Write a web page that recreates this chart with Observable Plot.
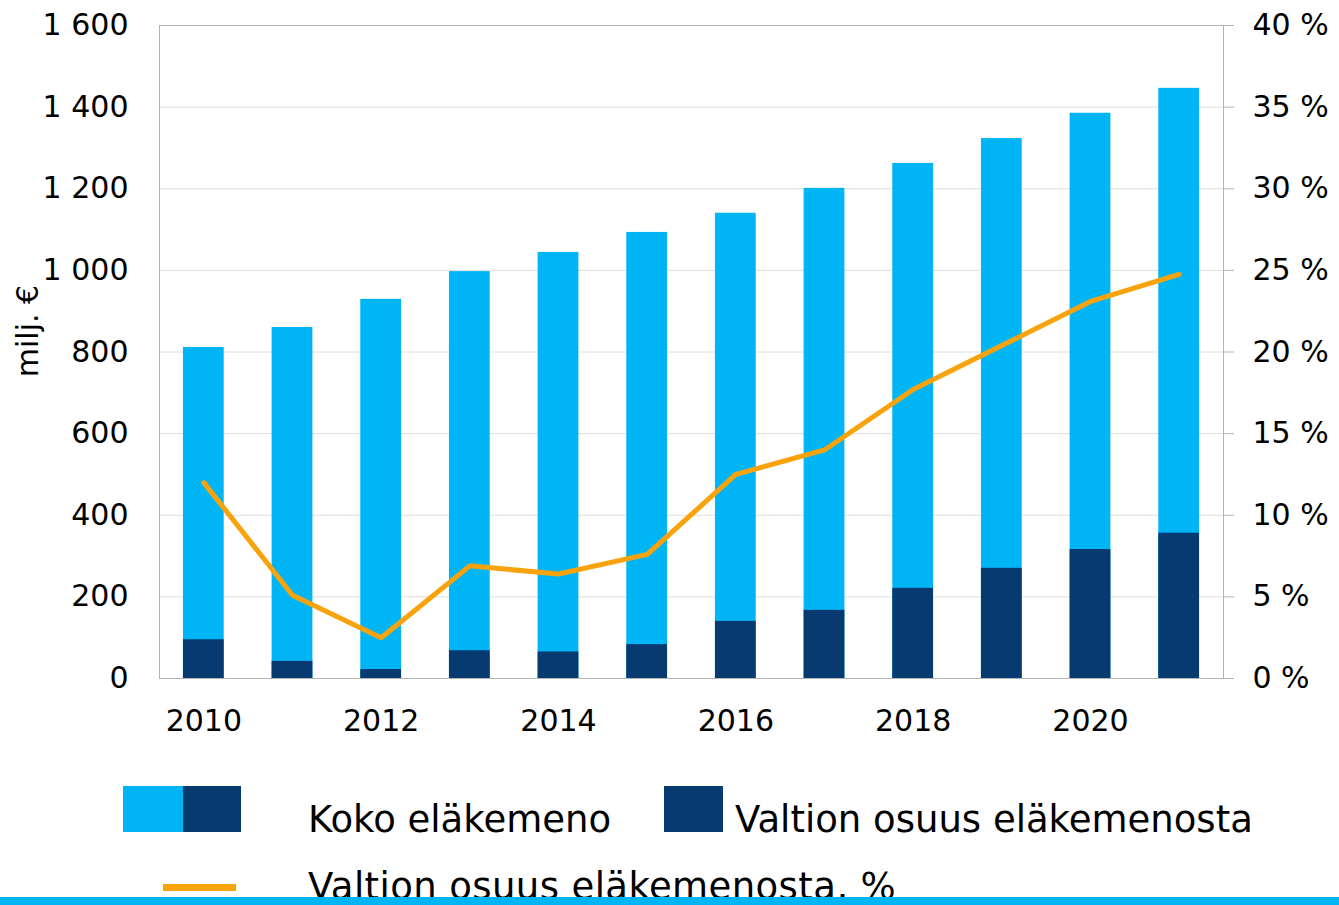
<!DOCTYPE html>
<html><head><meta charset="utf-8">
<script src="https://cdn.jsdelivr.net/npm/d3@7"></script>
<script src="https://cdn.jsdelivr.net/npm/@observablehq/plot@0.6"></script>
<style>
body{margin:0;background:#fff;font-family:"DejaVu Sans",Verdana,sans-serif}
#wrap{width:1339px;height:905px;overflow:hidden}
svg{display:block}
</style>
</head><body><div id="wrap"></div>
<script>
// ---- data ----
const years = ["2010","2011","2012","2013","2014","2015","2016","2017","2018","2019","2020","2021"];
const totalSpend = [811, 860, 929, 997, 1044, 1093, 1140, 1201, 1262, 1323, 1385, 1446];
const stateShare = [95, 42, 22, 68, 65, 83, 140, 167, 221, 270, 316, 356];
const sharePct = [12.0, 5.1, 2.5, 6.9, 6.4, 7.6, 12.5, 14.0, 17.7, 20.4, 23.1, 24.75];
const leftTicks = [0, 200, 400, 600, 800, 1000, 1200, 1400, 1600];
const rightMax = 40; // percent at top of right axis
const leftMax = 1600;
const xTickLabels = ["2010","2012","2014","2016","2018","2020"];
const yLabel = "milj. €";
const legendLabels = ["Koko eläkemeno", "Valtion osuus eläkemenosta", "Valtion osuus eläkemenosta, %"];

const LIGHT = "#00b5f6", DARK = "#063a71", ORANGE = "#f8a30b";
const AXIS = "#b4b4b4", GRID = "#dedede";

const ratio = leftMax / rightMax;
const data = years.map((y, i) => ({year: y, total: totalSpend[i], state: stateShare[i], pct: sharePct[i]}));
const fmtThousands = d3.formatLocale({decimal: ",", thousands: " ", grouping: [3]}).format(",");

const chart = Plot.plot({
  width: 1339,
  height: 760,
  marginLeft: 159,
  marginRight: 116,
  marginTop: 25,
  marginBottom: 82,
  style: {fontFamily: "DejaVu Sans, Verdana, sans-serif", fontSize: "30px", color: "#000", background: "#fff"},
  x: {domain: years, paddingInner: 0.54, paddingOuter: 0.27, round: false, axis: null},
  y: {domain: [0, leftMax], axis: null},
  marks: [
    Plot.gridY(leftTicks, {stroke: GRID, strokeOpacity: 1}),
    Plot.barY(data, {x: "year", y: "total", fill: LIGHT}),
    Plot.barY(data, {x: "year", y: "state", fill: DARK}),
    Plot.frame({stroke: AXIS}),
    Plot.line(data, {x: "year", y: d => d.pct * ratio, stroke: ORANGE, strokeWidth: 5, strokeLinejoin: "miter"}),
    Plot.axisY(leftTicks, {anchor: "left", label: null, tickSize: 0, tickPadding: 31, tickFormat: d => fmtThousands(d), fontSize: 30, fill: "#000"}),
    Plot.axisY(leftTicks, {anchor: "right", label: null, tickSize: 10, tickPadding: 19, stroke: AXIS, tickFormat: d => `${d / ratio} %`, fontSize: 30, fill: "#000"}),
    Plot.axisX(xTickLabels, {anchor: "bottom", label: null, tickSize: 0, tickPadding: 31, fontSize: 30, fill: "#000"}),
    Plot.text([yLabel], {frameAnchor: "left", dx: -131, dy: -21, rotate: -90, fontSize: 30, fill: "#000", textAnchor: "middle", lineAnchor: "middle"})
  ]
});
document.getElementById("wrap").appendChild(chart);

// ---- legend (below the plot SVG) ----
const leg = d3.select("#wrap").append("svg")
  .attr("width", 1339).attr("height", 145)
  .style("font-family", "DejaVu Sans, Verdana, sans-serif");
leg.append("rect").attr("x", 123).attr("y", 26).attr("width", 60).attr("height", 46).attr("fill", LIGHT);
leg.append("rect").attr("x", 183).attr("y", 26).attr("width", 58).attr("height", 46).attr("fill", DARK);
leg.append("text").attr("x", 308).attr("y", 72).attr("font-size", 37).text(legendLabels[0]);
leg.append("rect").attr("x", 664).attr("y", 26).attr("width", 59).attr("height", 46).attr("fill", DARK);
leg.append("text").attr("x", 735).attr("y", 72).attr("font-size", 37).text(legendLabels[1]);
leg.append("rect").attr("x", 163).attr("y", 124).attr("width", 73).attr("height", 7).attr("fill", ORANGE);
leg.append("text").attr("x", 308).attr("y", 139).attr("font-size", 37).attr("letter-spacing", 0.4).text(legendLabels[2]);
leg.append("rect").attr("x", 0).attr("y", 137).attr("width", 1339).attr("height", 8).attr("fill", LIGHT);
</script>
</body></html>
